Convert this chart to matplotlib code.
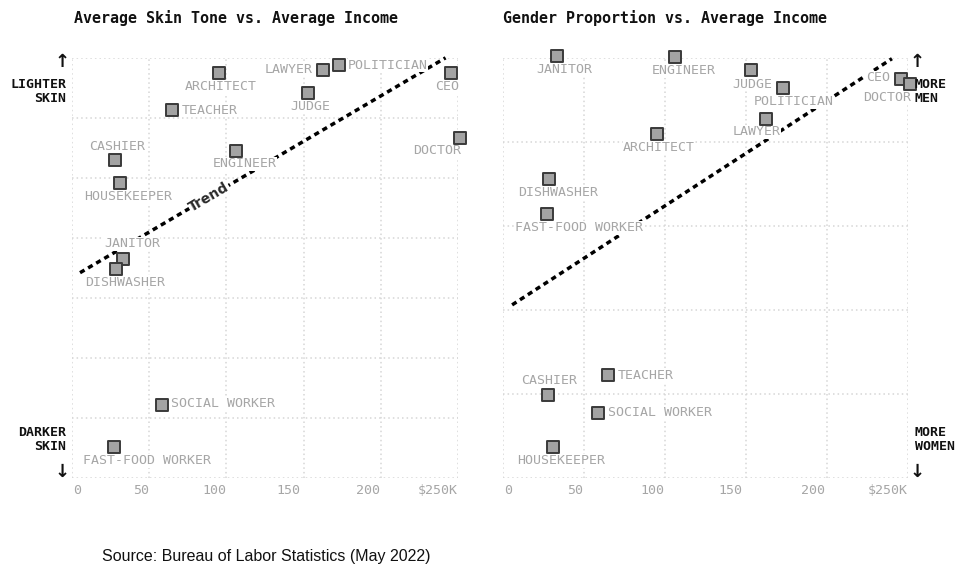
import matplotlib
matplotlib.use('Agg')
import matplotlib.pyplot as plt
import numpy as np

# Dados (renda média em milhares de dólares)
ocupacoes = ['ARCHITECT', 'LAWYER', 'POLITICIAN', 'CEO', 'JUDGE', 'TEACHER', 'DOCTOR',
             'CASHIER', 'ENGINEER', 'HOUSEKEEPER', 'JANITOR', 'DISHWASHER',
             'SOCIAL WORKER', 'FAST-FOOD WORKER']
renda = [95, 162.5, 173, 245.5, 152.8, 64.8, 251.2, 27.8, 106.2, 31, 33, 28.5, 58.5, 27.2]
# tom de pele médio (índice 0 = mais escuro, 7 = mais claro)
tom_pele = [6.75, 6.8, 6.88, 6.75, 6.42, 6.13, 5.67, 5.3, 5.45, 4.92, 3.65, 3.48, 1.22, 0.52]
# proporção de homens (%)
prop_homens = [81.9, 85.5, 92.9, 95.0, 97.1, 24.5, 93.8, 19.8, 100.2, 7.4, 100.5, 71.2, 15.5, 62.9]

tendencia_x_pele = [5.2, 242]
tendencia_y_pele = [3.42, 7.0]
tendencia_x_genero = [5.6, 240]
tendencia_y_genero = [41.2, 99.8]

ticks_x = [0, 50, 100, 150, 200, 250]
rotulos_x = ['0', '50', '100', '150', '200', '$250K']

# posição dos rótulos (dx, dy em pixels, alinhamento)
offs_pele = {
    'ARCHITECT': (2, -14, 'center'), 'LAWYER': (-10, 0, 'right'),
    'POLITICIAN': (9, 0, 'left'), 'CEO': (-4, -14, 'center'),
    'JUDGE': (2, -14, 'center'), 'TEACHER': (10, 0, 'left'),
    'DOCTOR': (-23, -13, 'center'), 'CASHIER': (2, 13, 'center'),
    'ENGINEER': (9, -13, 'center'), 'HOUSEKEEPER': (8, -14, 'center'),
    'JANITOR': (9, 15, 'center'), 'DISHWASHER': (9, -13, 'center'),
    'SOCIAL WORKER': (9, 1, 'left'), 'FAST-FOOD WORKER': (33, -14, 'center'),
}
offs_genero = {
    'ARCHITECT': (2, -14, 'center'), 'LAWYER': (-10, -13, 'center'),
    'POLITICIAN': (10, -14, 'center'), 'CEO': (-11, 1, 'right'),
    'JUDGE': (2, -14, 'center'), 'TEACHER': (10, 0, 'left'),
    'DOCTOR': (-23, -14, 'center'), 'CASHIER': (1, 14, 'center'),
    'ENGINEER': (9, -14, 'center'), 'HOUSEKEEPER': (8, -14, 'center'),
    'JANITOR': (8, -14, 'center'), 'DISHWASHER': (9, -14, 'center'),
    'SOCIAL WORKER': (10, 0, 'left'), 'FAST-FOOD WORKER': (32, -14, 'center'),
}

MONO = 'DejaVu Sans Mono'
CINZA = '#a6a6a6'
# posição dos rótulos do eixo x (fração do eixo, distribuídos como no original)
pos_rotulos = [0.012, 0.178, 0.368, 0.562, 0.766, 1.0]

fig = plt.figure(figsize=(9.6, 5.67), dpi=100)
ax1 = fig.add_axes([0.075, 0.157, 0.402, 0.741])
ax2 = fig.add_axes([0.524, 0.157, 0.422, 0.741])


def montar_eixo(ax, ymax, ypasso, titulo, titulo_x):
    ax.set_xlim(0, 250)
    ax.set_ylim(0, ymax)
    ax.set_xticks(ticks_x)
    ax.set_yticks(np.arange(0, ymax + 0.001, ypasso))
    ax.grid(True, color='#d6d6d6', linestyle=(0, (1, 2)), linewidth=1.1)
    ax.tick_params(length=0, labelbottom=False, labelleft=False)
    for s in ax.spines.values():
        s.set_visible(False)
    for frac, rot in zip(pos_rotulos, rotulos_x):
        ha = 'right' if rot == rotulos_x[-1] else 'center'
        ax.text(frac, -0.03, rot, transform=ax.transAxes, ha=ha, va='center',
                family=MONO, fontsize=9.5, color=CINZA)
    fig.text(titulo_x, 0.968, titulo, family=MONO, fontweight='bold',
             fontsize=10.8, color='#111111', ha='left', va='center')


def desenhar(ax, ys, offs, tx, ty):
    ax.plot(tx, ty, color='black', lw=2.5, linestyle=(0, (1.5, 1.2)),
            zorder=2, clip_on=False)
    for nome, x, y in zip(ocupacoes, renda, ys):
        dx, dy, ha = offs[nome]
        ax.annotate(nome, (x, y), xytext=(dx, dy), textcoords='offset pixels',
                    ha=ha, va='center', family=MONO, fontsize=9.5, color=CINZA,
                    zorder=3, annotation_clip=False,
                    bbox=dict(fc='white', ec='none', pad=0.3))
    ax.scatter(renda, ys, marker='s', s=78, facecolor='#a3a3a3',
               edgecolor='#3a3a3a', linewidth=1.4, zorder=5, clip_on=False)


montar_eixo(ax1, 7, 1, 'Average Skin Tone vs. Average Income', 0.077)
montar_eixo(ax2, 100, 20, 'Gender Proportion vs. Average Income', 0.524)
desenhar(ax1, tom_pele, offs_pele, tendencia_x_pele, tendencia_y_pele)
desenhar(ax2, prop_homens, offs_genero, tendencia_x_genero, tendencia_y_genero)

# rótulo "Trend" alinhado à linha
fig.canvas.draw()
p1 = ax1.transData.transform((tendencia_x_pele[0], tendencia_y_pele[0]))
p2 = ax1.transData.transform((tendencia_x_pele[1], tendencia_y_pele[1]))
ang = np.degrees(np.arctan2(p2[1] - p1[1], p2[0] - p1[0]))
xt = 88.7
yt = np.interp(xt, tendencia_x_pele, tendencia_y_pele)
ax1.text(xt, yt, 'Trend', rotation=ang, rotation_mode='anchor', ha='center',
         va='center', fontsize=10, fontweight='semibold', color='#2a2a2a',
         family='DejaVu Sans', zorder=4,
         bbox=dict(fc='white', ec='none', pad=0.5))

# legendas laterais
kw = dict(family=MONO, fontweight='bold', fontsize=9.5, color='#111111', va='center')
fig.text(0.069, 1 - 92 / 567, 'LIGHTER\nSKIN', ha='right', linespacing=1.1, **kw)
fig.text(0.069, 1 - 440 / 567, 'DARKER\nSKIN', ha='right', linespacing=1.1, **kw)
fig.text(0.065, 1 - 62 / 567, '↑', ha='center', fontsize=13, fontweight='bold', color='#111111', va='center')
fig.text(0.065, 1 - 472 / 567, '↓', ha='center', fontsize=13, fontweight='bold', color='#111111', va='center')
fig.text(0.953, 1 - 92 / 567, 'MORE\nMEN', ha='left', linespacing=1.1, **kw)
fig.text(0.953, 1 - 440 / 567, 'MORE\nWOMEN', ha='left', linespacing=1.1, **kw)
fig.text(0.955, 1 - 62 / 567, '↑', ha='center', fontsize=13, fontweight='bold', color='#111111', va='center')
fig.text(0.955, 1 - 472 / 567, '↓', ha='center', fontsize=13, fontweight='bold', color='#111111', va='center')

fig.text(0.106, 1 - 556 / 567, 'Source: Bureau of Labor Statistics (May 2022)',
         family='Liberation Sans', fontsize=11.5, color='#111111', ha='left', va='center')

fig.savefig('out.png', dpi=100, facecolor='white')
